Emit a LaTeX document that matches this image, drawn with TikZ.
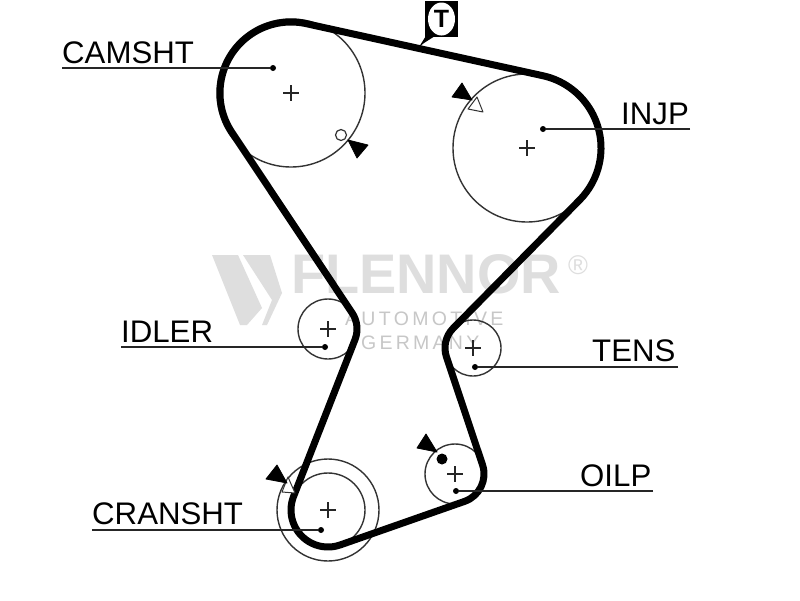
\documentclass[tikz,border=0pt]{standalone}
\usepackage{fontspec}
\setmainfont{Liberation Sans}
\usetikzlibrary{calc}
\usetikzlibrary{shapes.geometric}
\colorlet{wmark}{black!13}
\tikzset{
  pulley/.style={draw=black!80, line width=1.4pt},
  belt/.style={line width=7pt, line join=round},
  lbl/.style={anchor=base west, inner sep=0pt, font=\fontsize{31.2}{36}\selectfont},
  leader/.style={draw=black!85, line width=1.5pt},
  leaddot/.style={circle, fill=black, inner sep=0pt, minimum size=6pt},
  centermark/.style={black!85, line width=1.3pt},
  tick/.style={fill=black, draw=black, line join=round, line width=.8pt},
  hollowtick/.style={fill=white, draw=black!80, line join=round, line width=1pt}
}
\newcommand{\plusmark}[1]{\draw[centermark] ($(#1)+(-8,0)$) -- ($(#1)+(8,0)$) ($(#1)+(0,-8)$) -- ($(#1)+(0,8)$);}
\begin{document}
\begin{tikzpicture}[x=1pt,y=-1pt]
\useasboundingbox[fill=white] (0,0) rectangle (800,600);

% watermark
\fill[wmark] (212,255) -- (238,255) -- (262,308) -- (247,325) -- (240,325) -- cycle;
\fill[wmark] (243,255) -- (270,255) -- (282,293) -- (267,325) -- (262,325) -- (272,300) -- cycle;
\node[wmark, anchor=base west, inner sep=0pt, font=\bfseries\fontsize{55.8}{60}\selectfont] (brand) at (291,293) {FLENNOR};
\node[wmark, inner sep=0pt, font=\fontsize{27}{30}\selectfont] (regmark) at (578,265) {®};
\node[black!22, anchor=base west, inner sep=0pt, font=\fontsize{19.5}{22}\selectfont] (autom) at (345,325) {A\,U\,T\,O\,M\,O\,T\,I\,V\,E};
\node[black!22, anchor=base west, inner sep=0pt, font=\fontsize{19.5}{22}\selectfont] (germ) at (361,349) {G\,E\,R\,M\,A\,N\,Y};

\coordinate (cam) at (291,93);
\coordinate (inj) at (527,148);
\coordinate (idl) at (328,329);
\coordinate (ten) at (473,348);
\coordinate (oil) at (455,474);
\coordinate (cra) at (328,510);

\draw[pulley] (cam) circle (74);
\draw[pulley] (inj) circle (74);
\draw[pulley] (idl) circle (30);
\draw[pulley] (ten) circle (28);
\draw[pulley] (oil) circle (30);
\draw[pulley] (cra) circle (37);
\draw[pulley] (cra) circle (51);

\plusmark{cam}
\plusmark{inj}
\plusmark{idl}
\plusmark{ten}
\plusmark{oil}
\plusmark{cra}

% belt
\draw[belt] ($(cam)+(146.3:71)$) arc[start angle=146.3,end angle=282.4,radius=71]
  -- ($(inj)+(-77.6:74)$) arc[start angle=-77.6,end angle=44.6,radius=74]
  -- ($(ten)+(224.6:28)$) arc[start angle=224.6,end angle=161.5,radius=28]
  -- ($(oil)+(-18.5:29)$) arc[start angle=-18.5,end angle=70.7,radius=29]
  -- ($(cra)+(70.7:37)$) arc[start angle=70.7,end angle=201.4,radius=37]
  -- ($(idl)+(21.4:29)$) arc[start angle=21.4,end angle=-33.7,radius=29]
  -- cycle;

% timing marks
\draw[fill=white, draw=black!80, line width=1.2pt] (341,135) circle (5.5);
\fill[tick] (348,140) -- (368,145) -- (357,158) -- cycle;
\fill[tick] (462,83) -- (452,97) -- (472,100) -- cycle;
\filldraw[hollowtick] (477,97) -- (468,109) -- (483,112) -- cycle;
\fill[tick] (426,434) -- (417,448) -- (437,452) -- cycle;
\fill[black] (442,459) circle (5.5);
\filldraw[hollowtick] (288,477) -- (282,492) -- (295,493) -- cycle;
\fill[tick] (277,465) -- (266,479) -- (287,483) -- cycle;

% tension tag
\node[fill=black, minimum width=33pt, minimum height=36pt, inner sep=0pt] (tag) at (441.5,19) {};
\node[ellipse, fill=white, inner sep=0pt, minimum width=27pt, minimum height=33pt] (tagin) at (tag) {};
\node[inner sep=0pt, font=\bfseries\fontsize{25}{30}\selectfont] (tagt) at (tag) {T};
\coordinate (tagtip) at (419,47);
\fill[black] (tagtip) -- (429,31) -- (435,36) -- (424,43) -- cycle;

% labels
\node[lbl] (camlab) at (62,63) {CAMSHT};
\node[leaddot] (camdot) at (273,68) {};
\coordinate (camend) at (62,68);
\draw[leader] (camend) -- (camdot);

\node[lbl] (injlab) at (621,124) {INJP};
\node[leaddot] (injdot) at (543,129) {};
\coordinate (injend) at (690,129);
\draw[leader] (injend) -- (injdot);

\node[lbl] (idllab) at (121,342) {IDLER};
\node[leaddot] (idldot) at (325,347) {};
\coordinate (idlend) at (121,347);
\draw[leader] (idlend) -- (idldot);

\node[lbl] (tenlab) at (592,361) {TENS};
\node[leaddot] (tendot) at (475,367) {};
\coordinate (tenend) at (678,367);
\draw[leader] (tenend) -- (tendot);

\node[lbl] (oillab) at (580,486) {OILP};
\node[leaddot] (oildot) at (456,491) {};
\coordinate (oilend) at (653,491);
\draw[leader] (oilend) -- (oildot);

\node[lbl] (cralab) at (92,524) {CRANSHT};
\node[leaddot] (cradot) at (321,530) {};
\coordinate (craend) at (92,530);
\draw[leader] (craend) -- (cradot);
\end{tikzpicture}
\end{document}
